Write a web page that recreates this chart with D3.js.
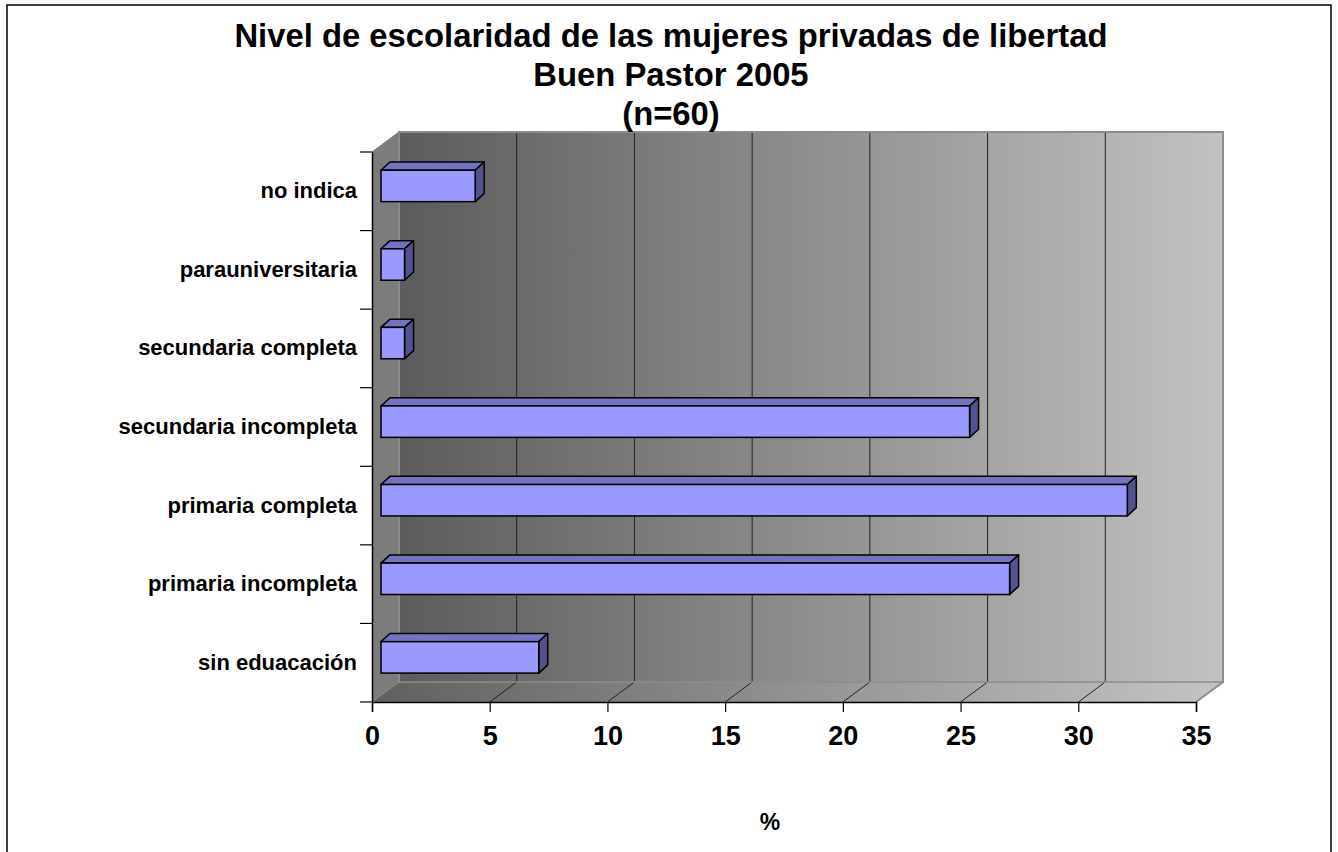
<!DOCTYPE html>
<html>
  <head>
    <meta charset="utf-8" />
    <title>Nivel de escolaridad</title>
    <script src="https://cdn.jsdelivr.net/npm/d3@7"></script>
    <style type="text/css">
      body { margin: 0; background: #fff; }
      text { font-family: "Liberation Sans", Arial, sans-serif; font-weight: bold; fill: #000; }
    </style>
  </head>
  <body>
    <svg id="chart" width="1338" height="852"></svg>
    <script type="text/javascript">
      // categories, top to bottom as drawn
      var categories = [
        'no indica',
        'parauniversitaria',
        'secundaria completa',
        'secundaria incompleta',
        'primaria completa',
        'primaria incompleta',
        'sin eduacación',
      ];
      var values = [4, 1, 1, 25, 31.7, 26.7, 6.7]; // %
      var xTicks = [0, 5, 10, 15, 20, 25, 30, 35];
      var titleLines = [
        'Nivel de escolaridad de las mujeres privadas de libertad',
        'Buen Pastor 2005',
        '(n=60)',
      ];

      (function draw() {
        var svg = d3.select('#chart');
        var dx = 27, dy = -20; // depth of the 3d box
        var pl = 372, pr = 1196, pt = 152, pb = 702;

        var x = d3.scaleLinear().domain([0, 35]).range([pl, pr]);
        var y = d3.scaleBand().domain(categories).range([pt, pb]);

        // outer frame
        svg.append('rect')
          .attr('x', 7).attr('y', 5).attr('width', 1324).attr('height', 860)
          .attr('fill', '#fff').attr('stroke', '#000').attr('stroke-width', 1.5);

        var defs = svg.append('defs');
        var g1 = defs.append('linearGradient').attr('id', 'wall')
          .attr('gradientUnits', 'userSpaceOnUse')
          .attr('x1', pl + dx).attr('x2', pr + dx).attr('y1', 0).attr('y2', 0);
        g1.append('stop').attr('offset', 0).attr('stop-color', '#5c5c5c');
        g1.append('stop').attr('offset', 1).attr('stop-color', '#c2c2c2');
        var g2 = defs.append('linearGradient').attr('id', 'floor')
          .attr('gradientUnits', 'userSpaceOnUse')
          .attr('x1', pl).attr('x2', pr + dx).attr('y1', 0).attr('y2', 0);
        g2.append('stop').attr('offset', 0).attr('stop-color', '#606060');
        g2.append('stop').attr('offset', 1).attr('stop-color', '#c4c4c4');

        var poly = function (pts) { return 'M' + pts.map(function (p) { return p.join(','); }).join('L') + 'Z'; };

        // back wall
        svg.append('rect')
          .attr('x', pl + dx).attr('y', pt + dy)
          .attr('width', pr - pl).attr('height', pb - pt)
          .attr('fill', 'url(#wall)');
        // side wall
        svg.append('path')
          .attr('d', poly([[pl, pt], [pl + dx, pt + dy], [pl + dx, pb + dy], [pl, pb]]))
          .attr('fill', '#7c7c7c');
        // floor
        svg.append('path')
          .attr('d', poly([[pl, pb], [pl + dx, pb + dy], [pr + dx, pb + dy], [pr, pb]]))
          .attr('fill', 'url(#floor)');

        // gridlines on wall and floor
        var inner = xTicks.filter(function (d) { return d > 0 && d < 35; });
        svg.selectAll('.grid').data(inner).enter().append('line')
          .attr('x1', function (d) { return x(d) + dx; }).attr('x2', function (d) { return x(d) + dx; })
          .attr('y1', pt + dy).attr('y2', pb + dy)
          .attr('stroke', '#222').attr('stroke-width', 1);
        svg.selectAll('.fgrid').data(inner).enter().append('line')
          .attr('x1', function (d) { return x(d); }).attr('x2', function (d) { return x(d) + dx; })
          .attr('y1', pb).attr('y2', pb + dy)
          .attr('stroke', '#222').attr('stroke-width', 1);

        // box edges
        var edge = '#8c8c8c';
        svg.append('path')
          .attr('d', 'M' + (pl + dx) + ',' + (pb + dy) + 'V' + (pt + dy) + 'H' + (pr + dx) + 'V' + (pb + dy) + 'L' + pr + ',' + pb)
          .attr('fill', 'none').attr('stroke', edge).attr('stroke-width', 2);
        svg.append('line')
          .attr('x1', pl + dx).attr('x2', pr + dx).attr('y1', pb + dy).attr('y2', pb + dy)
          .attr('stroke', edge).attr('stroke-width', 1.5);
        svg.append('line')
          .attr('x1', pl).attr('x2', pl + dx).attr('y1', pt).attr('y2', pt + dy)
          .attr('stroke', '#777').attr('stroke-width', 1);

        // bars
        var bz = dx / 3, bzy = dy / 3; // bar front sits a third into the depth
        var bh = y.bandwidth() * 0.4;
        svg.selectAll('.bar').data(categories).enter().append('g')
          .each(function (c, i) {
            var g = d3.select(this);
            var x0 = x(0) + bz, x1 = x(values[i]) + bz;
            var y0 = y(c) + y.bandwidth() / 2 - bh * 0.67, y1 = y0 + bh;
            var ddx = bz, ddy = bzy - 1.5;
            g.append('path').attr('d', poly([[x0, y0], [x0 + ddx, y0 + ddy], [x1 + ddx, y0 + ddy], [x1, y0]]))
              .attr('fill', '#7373c0').attr('stroke', '#000').attr('stroke-width', 1.5).attr('stroke-linejoin', 'round');
            g.append('path').attr('d', poly([[x1, y0], [x1 + ddx, y0 + ddy], [x1 + ddx, y1 + ddy], [x1, y1]]))
              .attr('fill', '#525290').attr('stroke', '#000').attr('stroke-width', 1.5).attr('stroke-linejoin', 'round');
            g.append('rect').attr('x', x0).attr('y', y0).attr('width', x1 - x0).attr('height', bh)
              .attr('fill', '#9999ff').attr('stroke', '#000').attr('stroke-width', 1.5);
          });

        // x axis
        var xAxis = d3.axisBottom(x).tickValues(xTicks).tickSize(10).tickPadding(14);
        var gx = svg.append('g').attr('transform', 'translate(0,' + pb + ')').call(xAxis);
        gx.select('.domain').attr('stroke', '#000').attr('stroke-width', 1.5);
        gx.selectAll('.tick line').attr('stroke', '#000').attr('stroke-width', 1.2);
        gx.selectAll('.tick text').attr('font-size', 27).attr('font-family', null).attr('fill', '#000');

        // y axis
        var yAxis = d3.axisLeft(y).tickSize(0).tickPadding(15);
        var gy = svg.append('g').attr('transform', 'translate(' + pl + ',0)').call(yAxis);
        gy.select('.domain').attr('stroke', '#000').attr('stroke-width', 1.5);
        gy.selectAll('.tick text').attr('font-size', 22).attr('font-family', null).attr('fill', '#000');
        var bounds = categories.map(function (c) { return y(c); }).concat([pb]);
        svg.selectAll('.ytick').data(bounds).enter().append('line')
          .attr('x1', pl - 12).attr('x2', pl)
          .attr('y1', function (d) { return d; }).attr('y2', function (d) { return d; })
          .attr('stroke', '#000').attr('stroke-width', 1.2);

        // titles
        svg.selectAll('.title').data(titleLines).enter().append('text')
          .attr('x', 671).attr('y', function (d, i) { return 47 + i * 39; })
          .attr('text-anchor', 'middle').attr('font-size', 32.8)
          .text(function (d) { return d; });
        svg.append('text').attr('x', 770).attr('y', 830).attr('text-anchor', 'middle')
          .attr('font-size', 23).text('%');
      })();
    </script>
  </body>
</html>
